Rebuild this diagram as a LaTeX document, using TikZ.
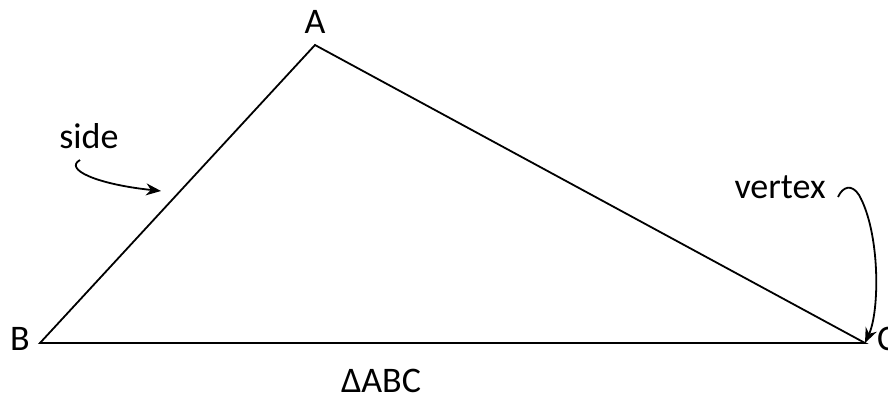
\documentclass[tikz,border=0pt]{standalone}
\usepackage{fontspec}
\setmainfont{Carlito}
\usetikzlibrary{arrows.meta}
\begin{document}
\begin{tikzpicture}[x=1pt,y=-1pt,
  lbl/.style={inner sep=0pt,anchor=base,font=\fontsize{36}{40}\selectfont},
  edge/.style={line width=1.8pt},
  pointer/.style={line width=1.8pt,-{Stealth[length=15pt,width=12pt]}}]
\useasboundingbox (0,0) rectangle (888,399);
\coordinate (A) at (315,45);
\coordinate (B) at (40,343);
\coordinate (C) at (865,343);
\draw[edge] (B) -- (A) -- (C) -- cycle;
\node[lbl] (la) at (315,33) {A};
\node[lbl] (lb) at (20,350) {B};
\node[lbl,anchor=base west] (lc) at (877,350) {C};
\node[lbl] (tri) at (381,392) {ΔABC};
\node[lbl] (side) at (89,148) {side};
\node[lbl] (vertex) at (780,198) {vertex};
\coordinate (s0) at (80,160);
\coordinate (s1) at (161,191);
\draw[pointer] (s0) .. controls (64,169) and (95,184) .. (s1);
\coordinate (v0) at (838,197);
\coordinate (v1) at (859,195);
\draw[pointer] (v0) .. controls (843,186) and (852,184) .. (v1) .. controls (880,232) and (880,310) .. (C);
\end{tikzpicture}
\end{document}
